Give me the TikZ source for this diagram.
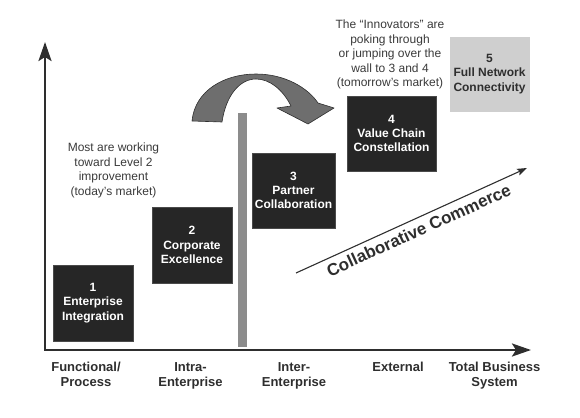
\documentclass[tikz,border=0pt]{standalone}
\usepackage{fontspec}
\setmainfont{Liberation Sans}
\usetikzlibrary{arrows.meta}
\definecolor{boxdark}{HTML}{262626}
\definecolor{boxedge}{HTML}{4a4a4a}
\definecolor{boxlight}{HTML}{CFCFCF}
\definecolor{wallgray}{HTML}{8C8C8C}
\definecolor{jumpgray}{HTML}{6E6E6E}
\definecolor{inkgray}{HTML}{2E2E2E}
\definecolor{notegray}{HTML}{3A3A3A}
\begin{document}
\begin{tikzpicture}[x=1pt,y=-1pt,
  stagebox/.style={fill=boxdark, draw=boxedge, line width=0.6pt, text=white,
    font=\bfseries\fontsize{12}{14.3}\selectfont, align=center, inner sep=0pt},
  lightbox/.style={stagebox, fill=boxlight, draw=boxlight, text=inkgray},
  note/.style={text=notegray, font=\fontsize{12}{14.5}\selectfont, align=center, inner sep=0pt, anchor=north},
  axislabel/.style={text=inkgray, font=\bfseries\fontsize{13}{15}\selectfont, align=center, inner sep=0pt, anchor=north},
  axisline/.style={line width=2.6pt, draw=inkgray, line join=miter,
    {Stealth[length=19pt,width=13pt,inset=4pt]}-{Stealth[length=19pt,width=13pt,inset=4pt]}},
  trendline/.style={line width=1.1pt, draw=inkgray, -{Stealth[length=10pt,width=7pt,inset=2pt]}}
]
\useasboundingbox (0,0) rectangle (580,417);

% axes
\coordinate (ytop) at (45,42);
\coordinate (orig) at (45,350);
\coordinate (xend) at (531,350);
\draw[axisline] (ytop) -- (orig) -- (xend);

% wall
\node[fill=wallgray, minimum width=9pt, minimum height=234pt, inner sep=0pt] (wall) at (242.5,230) {};

% curved jump arrow
\fill[jumpgray, draw=inkgray, line width=0.6pt, line join=round]
  (192,121) .. controls (195,90) and (225,74) .. (256,74)
  .. controls (285,74) and (308,88) .. (318,103)
  -- (334,108) -- (308,124) -- (277,108) -- (291,106)
  .. controls (283,90) and (270,79) .. (256,79)
  .. controls (240,79) and (226,95) .. (222,122) -- cycle;

% stages
\node[stagebox, minimum width=80pt, minimum height=76pt] (n1) at (93,303) {1\\Enterprise\\Integration};
\node[stagebox, minimum width=80pt, minimum height=76pt] (n2) at (192,245) {2\\Corporate\\Excellence};
\node[stagebox, minimum width=83pt, minimum height=75pt] (n3) at (293.5,190.5) {3\\Partner\\Collaboration};
\node[stagebox, minimum width=89pt, minimum height=75pt] (n4) at (391.5,133.5) {4\\Value Chain\\Constellation};
\node[lightbox, minimum width=79pt, minimum height=74pt] (n5) at (489.5,74) {5\\Full Network\\Connectivity};

% notes
\node[note] (note1) at (113.5,143) {Most are working\\toward Level 2\\improvement\\(today’s market)};
\node[note] (note2) at (390,20) {The “Innovators” are\\poking through\\or jumping over the\\wall to 3 and 4\\(tomorrow’s market)};

% collaborative commerce
\coordinate (cc1) at (296,273);
\coordinate (cc2) at (527,168);
\draw[trendline] (cc1) -- node[pos=0.51, sloped, below, inner sep=5pt, text=inkgray,
  font=\bfseries\fontsize{17}{20}\selectfont] (cclabel) {Collaborative Commerce} (cc2);

% axis labels
\node[axislabel] (lab1) at (86,362) {Functional/\\Process};
\node[axislabel] (lab2) at (190.5,362) {Intra-\\Enterprise};
\node[axislabel] (lab3) at (294,362) {Inter-\\Enterprise};
\node[axislabel] (lab4) at (398,362) {External};
\node[axislabel] (lab5) at (494.5,362) {Total Business\\System};
\end{tikzpicture}
\end{document}
